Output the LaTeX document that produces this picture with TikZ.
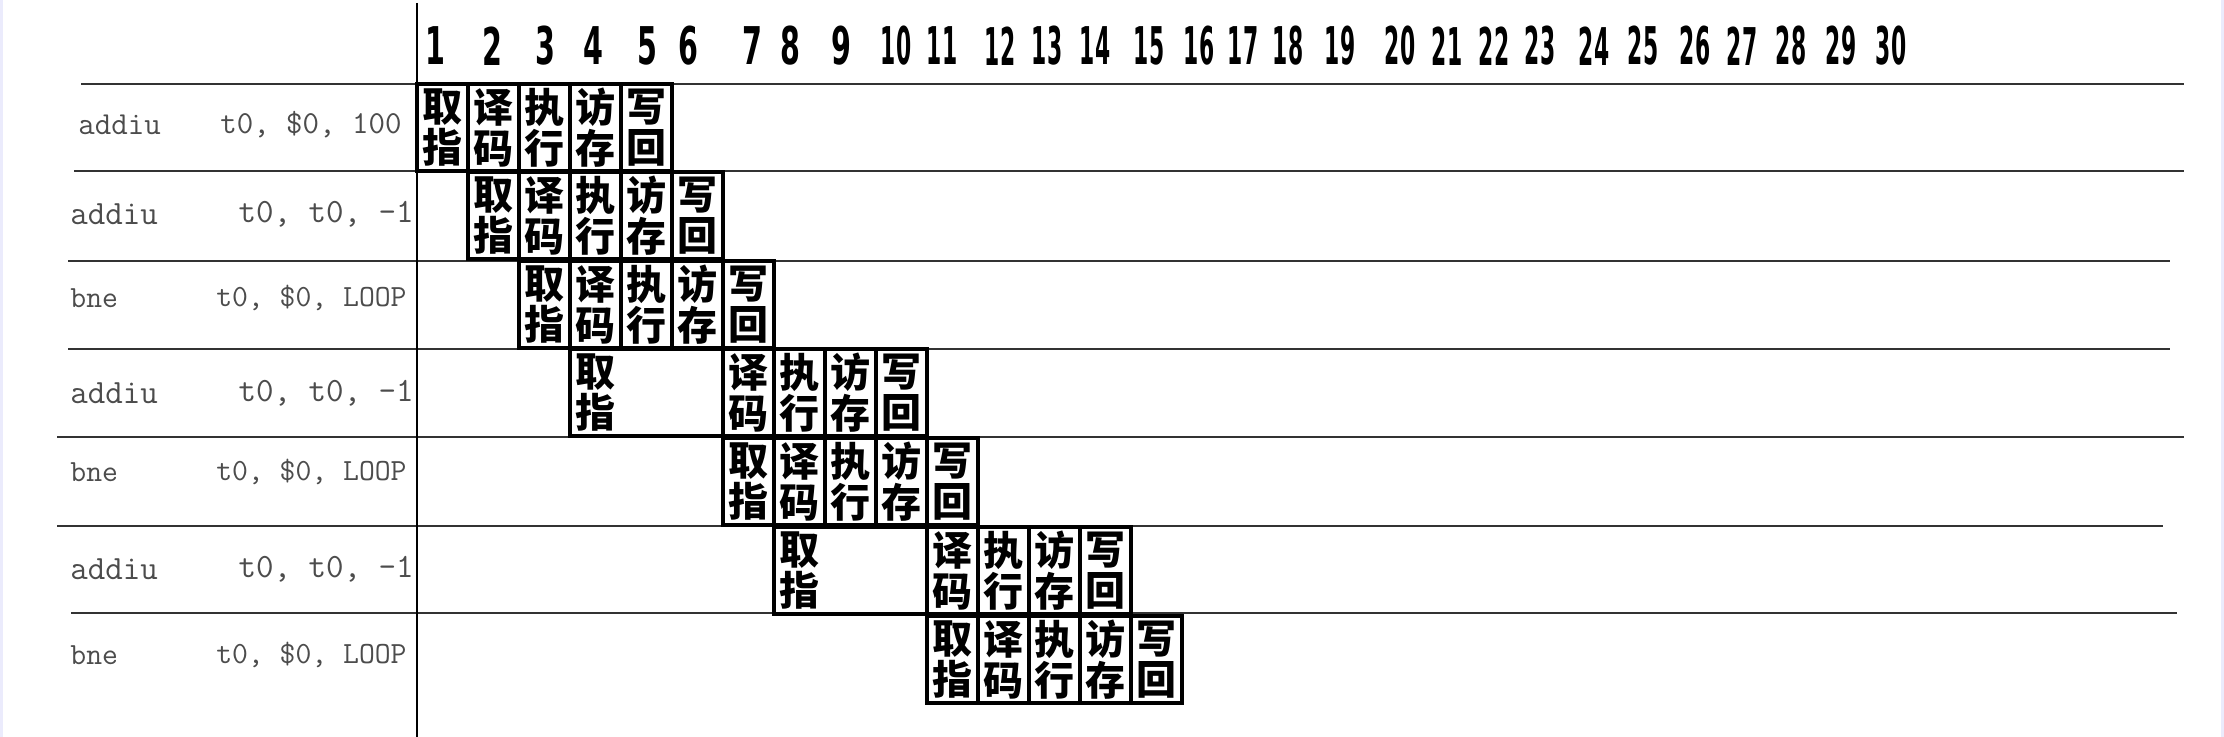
\documentclass[tikz,border=0pt]{standalone}
\usepackage{fontspec}
\usepackage{graphicx}
\newfontfamily\cjk{Noto Sans CJK SC}
\newfontfamily\digf{DejaVu Sans}
\newcommand\stg[4]{\node[stagebox] (#1) at ({417+(#2+0.5)*51},{#3+43.5}) {#4};}
\begin{document}
\begin{tikzpicture}[x=0.5pt,y=-0.5pt,
  stagebox/.style={draw=black, line width=1.7pt, minimum width=25.5pt, minimum height=43.5pt, inner sep=0pt, font=\cjk\bfseries\fontsize{20}{20.5}\selectfont, align=center},
  widebox/.style={draw=black, line width=1.7pt, minimum width=76.5pt, minimum height=43.5pt, inner sep=0pt},
  stagetext/.style={inner sep=0pt, font=\cjk\bfseries\fontsize{20}{20.5}\selectfont, align=center},
  rowline/.style={draw=black!80, line width=0.8pt},
  asm/.style={text=black!70, inner sep=0pt, font=\ttfamily\fontsize{17}{17}\selectfont},
  asmone/.style={text=black!70, inner sep=0pt, font=\ttfamily\fontsize{16}{16}\selectfont},
  asms/.style={text=black!70, inner sep=0pt, font=\ttfamily\fontsize{15.4}{15.4}\selectfont},
  cyc/.style={inner sep=0pt, font=\digf\bfseries\fontsize{26}{26}\selectfont}
]
\useasboundingbox (0,0) rectangle (2224,737);
\fill[white] (0,0) rectangle (2224,737);
\fill[black!12!blue!8] (0,0) rectangle (3,737);
\fill[black!12!blue!8] (2221,0) rectangle (2224,737);

% row lines
\draw[rowline] (81,84) -- (2184,84);
\draw[rowline] (74,171) -- (2184,171);
\draw[rowline] (68,261) -- (2170,261);
\draw[rowline] (68,349) -- (2170,349);
\draw[rowline] (57,437) -- (2184,437);
\draw[rowline] (57,526) -- (2163,526);
\draw[rowline] (71,613) -- (2177,613);
% vertical axis
\draw[black, line width=1pt] (417,3) -- (417,737);

% cycle numbers
\foreach \n/\x in {1/435,2/492,3/545,4/593,5/647,6/688,7/752,8/790,9/841}
  \node[cyc] (c\n) at (\x,46) {\scalebox{0.55}[1]{\n}};
\foreach \n/\x in {10/896,11/942,12/1000,13/1047,14/1095,15/1149,16/1199,17/1243,18/1288,19/1340,20/1400,21/1447,22/1494,23/1540,24/1594,25/1643,26/1695,27/1742,28/1791,29/1841,30/1891}
  \node[cyc] (c\n) at (\x,46) {\scalebox{0.42}[1]{\n}};

% instruction labels
\node[asmone, anchor=west] (op1) at (78,125) {addiu};
\node[asmone, anchor=east] (ar1) at (402,125) {t0, \$0, 100};
\node[asm, anchor=west] (op2) at (70,214) {addiu};
\node[asm, anchor=east] (ar2) at (414,214) {t0, t0, -1};
\node[asms, anchor=west] (op3) at (70,298) {bne};
\node[asms, anchor=east] (ar3) at (407,298) {t0, \$0, LOOP};
\node[asm, anchor=west] (op4) at (70,393) {addiu};
\node[asm, anchor=east] (ar4) at (414,393) {t0, t0, -1};
\node[asms, anchor=west] (op5) at (70,472) {bne};
\node[asms, anchor=east] (ar5) at (407,472) {t0, \$0, LOOP};
\node[asm, anchor=west] (op6) at (70,569) {addiu};
\node[asm, anchor=east] (ar6) at (414,569) {t0, t0, -1};
\node[asms, anchor=west] (op7) at (70,655) {bne};
\node[asms, anchor=east] (ar7) at (407,655) {t0, \$0, LOOP};

% row 1
\stg{a1}{0}{84}{取\\指}
\stg{b1}{1}{84}{译\\码}
\stg{c1}{2}{84}{执\\行}
\stg{d1}{3}{84}{访\\存}
\stg{e1}{4}{84}{写\\回}
% row 2
\stg{a2}{1}{172}{取\\指}
\stg{b2}{2}{172}{译\\码}
\stg{c2}{3}{172}{执\\行}
\stg{d2}{4}{172}{访\\存}
\stg{e2}{5}{172}{写\\回}
% row 3
\stg{a3}{2}{261}{取\\指}
\stg{b3}{3}{261}{译\\码}
\stg{c3}{4}{261}{执\\行}
\stg{d3}{5}{261}{访\\存}
\stg{e3}{6}{261}{写\\回}
% row 4
\node[widebox] (a4) at ({417+4.5*51},{349+43.5}) {};
\node[stagetext] (a4t) at ({417+3.5*51},{349+43.5}) {取\\指};
\stg{b4}{6}{349}{译\\码}
\stg{c4}{7}{349}{执\\行}
\stg{d4}{8}{349}{访\\存}
\stg{e4}{9}{349}{写\\回}
% row 5
\stg{a5}{6}{438}{取\\指}
\stg{b5}{7}{438}{译\\码}
\stg{c5}{8}{438}{执\\行}
\stg{d5}{9}{438}{访\\存}
\stg{e5}{10}{438}{写\\回}
% row 6
\node[widebox] (a6) at ({417+8.5*51},{527+43.5}) {};
\node[stagetext] (a6t) at ({417+7.5*51},{527+43.5}) {取\\指};
\stg{b6}{10}{527}{译\\码}
\stg{c6}{11}{527}{执\\行}
\stg{d6}{12}{527}{访\\存}
\stg{e6}{13}{527}{写\\回}
% row 7
\stg{a7}{10}{616}{取\\指}
\stg{b7}{11}{616}{译\\码}
\stg{c7}{12}{616}{执\\行}
\stg{d7}{13}{616}{访\\存}
\stg{e7}{14}{616}{写\\回}
\end{tikzpicture}
\end{document}
